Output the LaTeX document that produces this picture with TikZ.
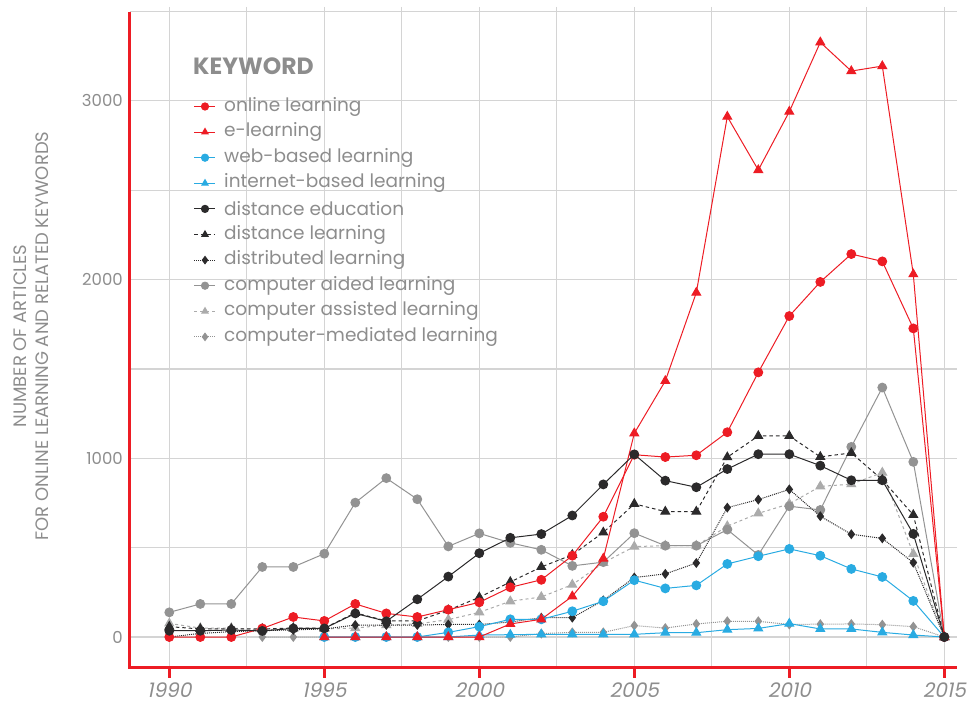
\documentclass[tikz,border=0pt]{standalone}
\usepackage{fontspec}
\setmainfont{Poppins}
\newfontfamily\yearfont[FakeSlant=0.2]{Poppins}
\usetikzlibrary{plotmarks}

\definecolor{chartred}{HTML}{ED1C24}
\definecolor{chartblue}{HTML}{29ABE2}
\definecolor{chartdark}{HTML}{2B2A2B}
\definecolor{chartgray}{HTML}{939393}
\definecolor{chartlight}{HTML}{ABABAB}
\definecolor{gridgray}{HTML}{D4D4D4}
\definecolor{textgray}{HTML}{8D8D8D}

\tikzset{
  gridline/.style={draw=gridgray, line width=1.2pt},
  axisline/.style={draw=chartred, line width=2.6pt},
  series/.style={line width=1pt},
  circmark/.style={mark=*, mark size=4.4pt},
  trimark/.style={mark=triangle*, mark size=5pt},
  diamark/.style={mark=diamond*, mark size=4.2pt},
  online/.style={series, circmark, chartred, mark options={solid, fill=chartred}},
  elearn/.style={series, trimark, chartred, mark options={solid, fill=chartred}},
  webb/.style={series, circmark, chartblue, mark options={solid, fill=chartblue}},
  inet/.style={series, trimark, chartblue, mark options={solid, fill=chartblue}},
  disted/.style={series, circmark, chartdark, mark options={solid, fill=chartdark}},
  distlrn/.style={series, trimark, chartdark, dash pattern=on 3.5pt off 3pt, mark options={solid, fill=chartdark}},
  distrib/.style={series, diamark, chartdark, dash pattern=on 1pt off 1pt, mark options={solid, fill=chartdark}},
  cad/.style={series, circmark, chartgray, mark options={solid, fill=chartgray}},
  cassist/.style={series, trimark, chartlight, dash pattern=on 3pt off 3pt, mark options={solid, fill=chartlight}},
  cmed/.style={series, diamark, chartgray, dash pattern=on 1pt off 1pt, mark options={solid, fill=chartgray}},
  ticklab/.style={text=textgray, font=\fontsize{16.5}{20}\selectfont, inner sep=0pt},
  yearlab/.style={text=textgray, font=\yearfont\fontsize{20}{22}\selectfont, inner sep=0pt, anchor=base},
  keytext/.style={text=textgray, font=\fontsize{18.5}{22}\selectfont, anchor=west, inner sep=0pt}
}

\begin{document}
\begin{tikzpicture}[x=1pt, y=-1pt]
  \useasboundingbox (0,0) rectangle (969,703);

  % grid
  \foreach \k in {0,...,10}
    \draw[gridline] ({169.3+77.5*\k},7) -- ({169.3+77.5*\k},667);
  \foreach \k in {0,...,7}
    \draw[gridline] (130,{637-89.35*\k}) -- (957,{637-89.35*\k});

  % axes
  \draw[axisline] (129.5,12) -- (129.5,667.5) -- (957,667.5);
  \foreach \yr [count=\k from 0] in {1990,1995,...,2015} {
    \draw[axisline] ({169.3+155*\k},667.5) -- ++(0,10);
    \node[yearlab] (x\yr) at ({169.3+155*\k},697) {\yr};
  }
  \foreach \v/\y in {0/637, 1000/458.3, 2000/279.6, 3000/100.9}
    \node[ticklab, anchor=east] (y\v) at (123,\y) {\v};
  \node[text=textgray, rotate=90, align=center, inner sep=0pt,
        font=\fontsize{18}{22}\selectfont] (ytitle) at (31,336)
    {NUMBER OF ARTICLES\\FOR ONLINE LEARNING AND RELATED KEYWORDS};

  % data
  \begin{scope}[shift={(-2620.7,637)}, x=31pt, y=0.1787pt]
    \draw[cmed] plot coordinates {(93,0) (94,0) (95,0) (96,0) (97,0) (98,0) (99,0) (100,0) (101,0) (102,19) (103,26) (104,26) (105,64) (106,50) (107,73) (108,88) (109,88) (110,70) (111,72) (112,73) (113,69) (114,58) (115,0)};
    \draw[cassist] plot coordinates {(90,76) (91,50) (92,50) (93,40) (94,45) (95,45) (96,50) (97,67) (98,73) (99,97) (100,138) (101,200) (102,224) (103,293) (104,415) (105,506) (106,511) (107,511) (108,620) (109,692) (110,745) (111,843) (112,855) (113,920) (114,465) (115,0)};
    \draw[cad] plot coordinates {(90,138) (91,185) (92,185) (93,392) (94,392) (95,466) (96,752) (97,889) (98,771) (99,507) (100,580) (101,527) (102,488) (103,398) (104,419) (105,581) (106,511) (107,511) (108,601) (109,459) (110,732) (111,711) (112,1064) (113,1396) (114,980) (115,0)};
    \draw[distrib] plot coordinates {(90,0) (91,20) (92,30) (93,35) (94,40) (95,45) (96,67) (97,67) (98,67) (99,70) (100,70) (101,84) (102,108) (103,108) (104,205) (105,333) (106,353) (107,414) (108,724) (109,769) (110,826) (111,676) (112,575) (113,552) (114,416) (115,0)};
    \draw[distlrn] plot coordinates {(90,58) (91,45) (92,45) (93,45) (94,50) (95,50) (96,135) (97,90) (98,90) (99,150) (100,222) (101,308) (102,392) (103,460) (104,585) (105,745) (106,702) (107,702) (108,1006) (109,1125) (110,1125) (111,1008) (112,1030) (113,880) (114,683) (115,0)};
    \draw[inet] plot coordinates {(95,0) (96,0) (97,0) (98,0) (99,0) (100,11) (101,13) (102,15) (103,15) (104,15) (105,15) (106,24) (107,24) (108,41) (109,48) (110,75) (111,45) (112,45) (113,26) (114,11) (115,0)};
    \draw[webb] plot coordinates {(95,0) (96,0) (97,0) (98,0) (99,26) (100,58) (101,99) (102,99) (103,144) (104,200) (105,318) (106,272) (107,289) (108,409) (109,452) (110,493) (111,455) (112,381) (113,336) (114,202) (115,0)};
    \draw[elearn] plot coordinates {(95,0) (96,0) (97,0) (98,0) (99,0) (100,0) (101,73) (102,99) (103,228) (104,439) (105,1140) (106,1433) (107,1927) (108,2912) (109,2613) (110,2940) (111,3328) (112,3167) (113,3195) (114,2030) (115,0)};
    \draw[online] plot coordinates {(90,0) (91,0) (92,0) (93,48) (94,112) (95,90) (96,185) (97,132) (98,112) (99,153) (100,194) (101,278) (102,320) (103,455) (104,673) (105,1020) (106,1007) (107,1017) (108,1146) (109,1481) (110,1796) (111,1987) (112,2143) (113,2102) (114,1727) (115,0)};
    \draw[disted] plot coordinates {(90,35) (91,35) (92,39) (93,34) (94,48) (95,48) (96,132) (97,88) (98,211) (99,338) (100,469) (101,555) (102,576) (103,680) (104,854) (105,1022) (106,875) (107,838) (108,940) (109,1023) (110,1023) (111,959) (112,877) (113,877) (114,577) (115,0)};
  \end{scope}

  % legend
  \node[text=textgray, anchor=west, inner sep=0pt, font=\bfseries\fontsize{23.5}{26}\selectfont] (keyhead) at (193,66) {KEYWORD};
  \foreach \sty/\lab [count=\i] in {online/online learning, elearn/e-learning, webb/web-based learning, inet/internet-based learning, disted/distance education, distlrn/distance learning, distrib/distributed learning, cad/computer aided learning, cassist/computer assisted learning, cmed/computer-mediated learning} {
    \pgfmathsetmacro\ly{106.5+25.6*(\i-1)}
    \draw[\sty, mark indices={2}, mark size=3.6pt] plot coordinates {(194,\ly) (205,\ly) (215,\ly)};
    \node[keytext] (key\i) at (224,\ly) {\lab};
  }
\end{tikzpicture}
\end{document}
